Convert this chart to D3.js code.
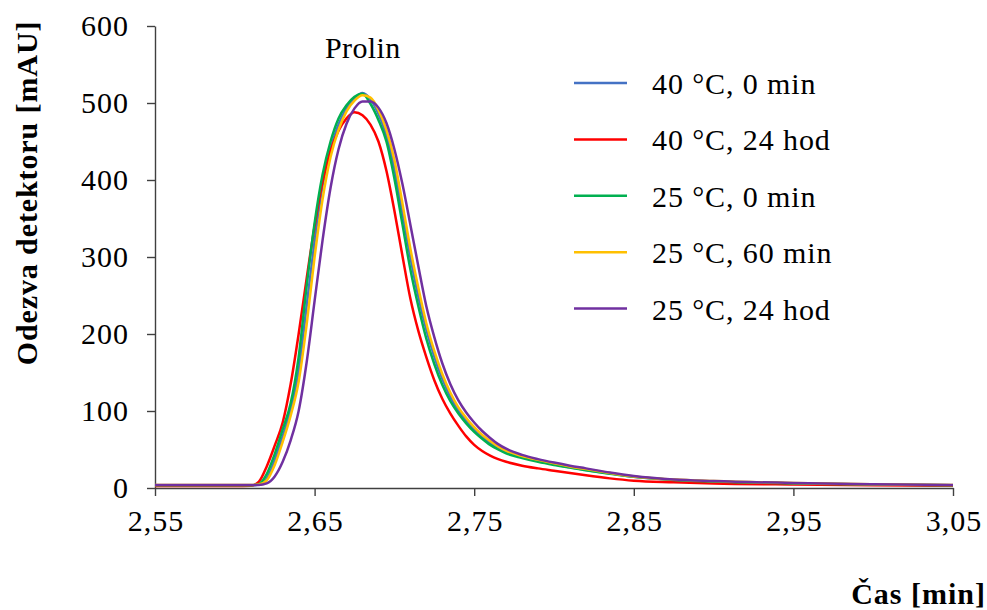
<!DOCTYPE html>
<html>
<head>
<meta charset="utf-8">
<script src="https://cdn.jsdelivr.net/npm/d3@7"></script>
<style>
  html, body { margin: 0; padding: 0; background: #fff; }
  svg { display: block; }
  text { font-family: "Liberation Serif", "Times New Roman", serif; fill: #000; }
</style>
</head>
<body>
<svg id="chart" width="987" height="610"></svg>
<script>
// ---- data ----
const times = [2.55, 2.60, 2.61, 2.615, 2.62, 2.625, 2.63, 2.635, 2.64, 2.645, 2.65, 2.655, 2.66, 2.665, 2.67, 2.675, 2.68,
  2.685, 2.69, 2.695, 2.70, 2.705, 2.71, 2.715, 2.72, 2.725, 2.73, 2.735, 2.74, 2.745, 2.75, 2.755, 2.76, 2.765, 2.77,
  2.78, 2.79, 2.80, 2.81, 2.82, 2.835, 2.85, 2.875, 2.90, 2.95, 3.00, 3.05];

const seriesNames = ["40 °C, 0 min", "40 °C, 24 hod", "25 °C, 0 min", "25 °C, 60 min", "25 °C, 24 hod"];
const seriesColors = ["#4472C4", "#FF0000", "#00B050", "#FFC000", "#7030A0"];

const blue40_0 = [3.5, 3.5, 3.5, 4.5, 12, 36, 67, 102, 152, 236, 320, 393, 440, 472, 493, 506, 513,
  505, 486, 458, 415, 358, 300, 249, 206, 171, 142, 119, 101, 88, 76, 66.5, 58.5, 52, 46.5,
  40, 35, 31, 27, 23.5, 19, 14.5, 10.5, 8.5, 6, 4.5, 3.5];
const red40_24 = [2.5, 2.5, 3, 8, 28, 55, 85, 135, 200, 272, 340, 398, 438, 464, 480, 488, 484,
  472, 450, 412, 360, 302, 246, 204, 170, 140, 116, 97, 81, 67, 56, 48, 42, 37.5, 34,
  29, 25.5, 22.5, 19.5, 16.5, 12.5, 9.5, 7.5, 6, 4.5, 3.5, 3];
const green25_0 = [3.5, 3.5, 3.5, 5, 18, 44, 76, 110, 170, 262, 344, 407, 450, 480, 497, 508, 512,
  499, 478, 450, 402, 343, 284, 236, 194, 161, 134, 113, 97, 84, 73, 64, 56, 50, 45,
  39, 34, 30, 26.5, 23, 18.5, 14.5, 10.5, 8.5, 6, 4.5, 3.5];
const yellow25_60 = [4, 4, 4, 4.5, 10, 30, 60, 94, 138, 212, 300, 375, 430, 465, 489, 503, 510,
  507, 491, 465, 426, 370, 311, 260, 214, 178, 148, 124, 105, 91, 79, 69, 61, 54, 48.5,
  41.5, 36.5, 32, 28, 24.5, 19.5, 15, 11, 9, 6.5, 5, 4];
const purple25_24 = [4, 4, 4, 4, 6, 15, 34, 62, 100, 163, 243, 322, 390, 440, 473, 493, 502,
  502, 494, 474, 440, 395, 342, 288, 236, 196, 162, 135, 114, 98, 85, 74, 65, 57, 51,
  43, 37.5, 33, 29, 25.5, 20, 15.5, 11, 9, 6.5, 5, 4];

const seriesValues = [blue40_0, red40_24, green25_0, yellow25_60, purple25_24];

const xTicks = [2.55, 2.65, 2.75, 2.85, 2.95, 3.05];
const yTicks = [0, 100, 200, 300, 400, 500, 600];

// ---- layout ----
const svg = d3.select("#chart");
const x = d3.scaleLinear().domain([2.55, 3.05]).range([155, 953]);
const y = d3.scaleLinear().domain([0, 600]).range([488, 26]);
const fmt = d => d.toFixed(2).replace(".", ",");

// axes
const xAxis = svg.append("g").attr("transform", "translate(0,488)")
  .call(d3.axisBottom(x).tickValues(xTicks).tickFormat(fmt).tickSize(8).tickSizeOuter(0).tickPadding(14));
const yAxis = svg.append("g").attr("transform", "translate(155,0)")
  .call(d3.axisLeft(y).tickValues(yTicks).tickSize(8).tickSizeOuter(0).tickPadding(18));

[xAxis, yAxis].forEach(a => {
  a.select(".domain").attr("stroke", "#404040").attr("stroke-width", 1.4);
  a.selectAll(".tick line").attr("stroke", "#404040").attr("stroke-width", 1.4);
  a.selectAll(".tick text").style("font-size", "30px").style("letter-spacing", "1px")
    .style("font-family", "'Liberation Serif', 'Times New Roman', serif").attr("fill", "#000");
});
xAxis.selectAll(".tick text").attr("dx", "0.5px");

// lines
const line = d3.line().curve(d3.curveMonotoneX);
seriesValues.forEach((vals, i) => {
  svg.append("path")
    .attr("d", line(times.map((t, j) => [x(t), y(vals[j])])))
    .attr("fill", "none")
    .attr("stroke", seriesColors[i])
    .attr("stroke-width", 2.5)
    .attr("stroke-linejoin", "round");
});

// labels
svg.append("text").attr("x", 325).attr("y", 58)
  .style("font-size", "30px").style("letter-spacing", "0.4px").text("Prolin");

svg.append("text")
  .attr("transform", "translate(37,193) rotate(-90)")
  .attr("text-anchor", "middle")
  .style("font-size", "30px").style("font-weight", "bold").style("letter-spacing", "0.9px")
  .text("Odezva detektoru [mAU]");

svg.append("text").attr("x", 986).attr("y", 604).attr("text-anchor", "end")
  .style("font-size", "30px").style("font-weight", "bold").style("letter-spacing", "1px")
  .text("Čas [min]");

// legend
const legend = svg.append("g");
seriesNames.forEach((name, i) => {
  const cy = 83 + i * 56.4;
  legend.append("line").attr("x1", 574).attr("x2", 627).attr("y1", cy).attr("y2", cy)
    .attr("stroke", seriesColors[i]).attr("stroke-width", 2.5);
  legend.append("text").attr("x", 652).attr("y", cy + 11)
    .style("font-size", "30px").style("letter-spacing", "0.9px").text(name);
});
</script>
</body>
</html>
